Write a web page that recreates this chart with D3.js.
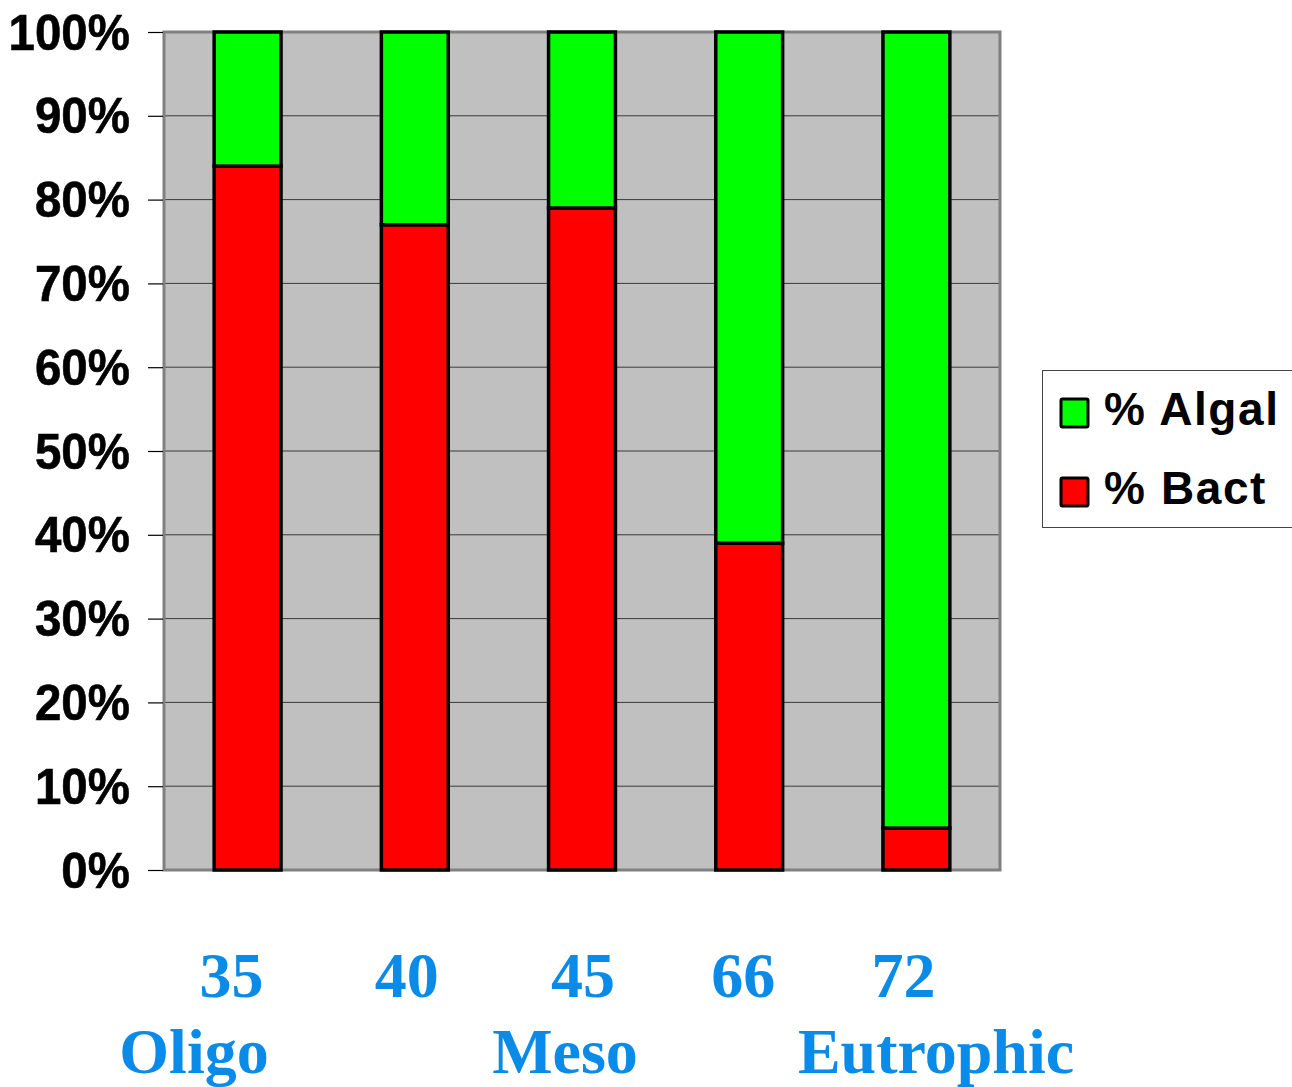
<!DOCTYPE html>
<html>
<head>
<meta charset="utf-8">
<script src="https://cdn.jsdelivr.net/npm/d3@7/dist/d3.min.js"></script>
<style>
  html, body { margin: 0; padding: 0; background: #ffffff; }
  svg { display: block; }
</style>
</head>
<body>
<svg id="chart" width="1292" height="1087"></svg>
<script>
// Trophic-status samples (x axis) and the share of production in each
const categories = ["35", "40", "45", "66", "72"];
const bactPct = [84, 77, 79, 39, 5];
const algalPct = [16, 23, 21, 61, 95];
const yTicks = [0, 10, 20, 30, 40, 50, 60, 70, 80, 90, 100];
const seriesNames = ["% Algal", "% Bact"];
const trophicNames = ["Oligo", "Meso", "Eutrophic"];

const svg = d3.select("#chart");
const plot = { left: 164, right: 1000, top: 32, bottom: 870 };

const x = d3.scaleBand()
  .domain(categories)
  .range([plot.left, plot.right])
  .paddingInner(0.6)
  .paddingOuter(0.3);

const y = d3.scaleLinear().domain([0, 100]).range([plot.bottom, plot.top]);

// Plot background
svg.append("rect")
  .attr("x", plot.left).attr("y", plot.top)
  .attr("width", plot.right - plot.left).attr("height", plot.bottom - plot.top)
  .attr("fill", "#c0c0c0");

// Horizontal gridlines
svg.append("g")
  .selectAll("line")
  .data(yTicks.filter(d => d > 0 && d < 100))
  .join("line")
  .attr("x1", plot.left).attr("x2", plot.right)
  .attr("y1", d => y(d)).attr("y2", d => y(d))
  .attr("stroke", "#3a3a3a").attr("stroke-width", 1);

// Plot frame
svg.append("rect")
  .attr("x", plot.left).attr("y", plot.top)
  .attr("width", plot.right - plot.left).attr("height", plot.bottom - plot.top)
  .attr("fill", "none").attr("stroke", "#808080").attr("stroke-width", 3);

// Y axis with percentage labels
const yAxis = d3.axisLeft(y)
  .tickValues(yTicks)
  .tickSize(15)
  .tickFormat(d => d + "%");
const gy = svg.append("g")
  .attr("transform", `translate(${plot.left - 1},0)`)
  .call(yAxis);
gy.select(".domain").remove();
gy.selectAll(".tick line").attr("stroke", "#000").attr("stroke-width", 1.2);
gy.selectAll(".tick text").remove();
gy.selectAll(".tick").append("text")
  .attr("transform", "translate(-33,17) scale(0.95,1)")
  .attr("text-anchor", "end")
  .attr("fill", "#000")
  .attr("stroke", "#000").attr("stroke-width", 0.6)
  .style("font-family", "'Liberation Sans', Arial, sans-serif")
  .style("font-weight", "bold")
  .style("font-size", "50px")
  .text(d => d + "%");

// Stacked bars: bacterial share at the bottom, algal share on top
const stacks = categories.map((c, i) => ({ c, bact: bactPct[i], algal: algalPct[i] }));
const bars = svg.append("g");
bars.selectAll("rect.bact")
  .data(stacks)
  .join("rect")
  .attr("class", "bact")
  .attr("x", d => x(d.c)).attr("width", x.bandwidth())
  .attr("y", d => y(d.bact)).attr("height", d => y(0) - y(d.bact))
  .attr("fill", "#ff0000").attr("stroke", "#000").attr("stroke-width", 3.5);
bars.selectAll("rect.algal")
  .data(stacks)
  .join("rect")
  .attr("class", "algal")
  .attr("x", d => x(d.c)).attr("width", x.bandwidth())
  .attr("y", d => y(d.bact + d.algal)).attr("height", d => y(d.bact) - y(d.bact + d.algal))
  .attr("fill", "#00ff00").attr("stroke", "#000").attr("stroke-width", 3.5);

// Legend
const legend = svg.append("g");
legend.append("rect")
  .attr("x", 1042.5).attr("y", 370.5).attr("width", 260).attr("height", 157)
  .attr("fill", "#fff").attr("stroke", "#444").attr("stroke-width", 1);
const legendColors = ["#00ff00", "#ff0000"];
seriesNames.forEach((name, i) => {
  const yy = 399 + i * 79;
  legend.append("rect")
    .attr("x", 1061).attr("y", yy).attr("width", 27).attr("height", 28)
    .attr("fill", legendColors[i]).attr("stroke", "#000").attr("stroke-width", 3)
    .attr("rx", 1.5);
  legend.append("text")
    .attr("x", 1104).attr("y", yy + 26)
    .attr("fill", "#000")
    .style("font-family", "'Liberation Sans', Arial, sans-serif")
    .style("font-weight", "bold")
    .style("font-size", "46px")
    .style("letter-spacing", "1.6px")
    .text(name);
});

// Category values beneath the bars, with trophic state names
const labelColor = "#0b8be8";
const valueOffsets = [-16, -8, 1, -6, -13];
svg.append("g")
  .selectAll("text")
  .data(categories)
  .join("text")
  .attr("x", (d, i) => x(d) + x.bandwidth() / 2 + valueOffsets[i])
  .attr("y", 997)
  .attr("text-anchor", "middle")
  .attr("fill", labelColor)
  .style("font-family", "'Liberation Serif', 'Times New Roman', serif")
  .style("font-weight", "bold")
  .style("font-size", "64px")
  .text(d => d);

const trophicCenters = [194, 565, 936];
svg.append("g")
  .selectAll("text")
  .data(trophicNames)
  .join("text")
  .attr("x", (d, i) => trophicCenters[i])
  .attr("y", 1073)
  .attr("text-anchor", "middle")
  .attr("fill", labelColor)
  .style("font-family", "'Liberation Serif', 'Times New Roman', serif")
  .style("font-weight", "bold")
  .style("font-size", "64px")
  .text(d => d);
</script>
</body>
</html>
